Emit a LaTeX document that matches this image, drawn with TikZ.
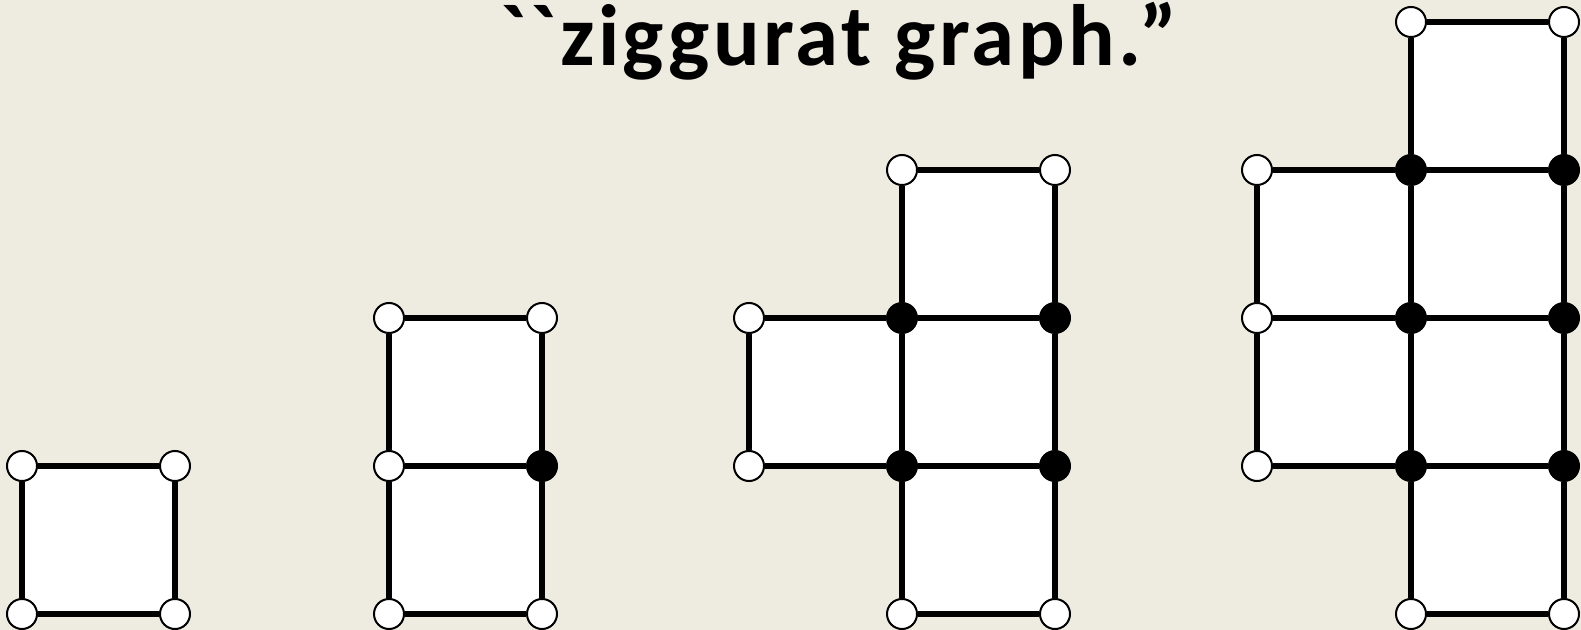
\documentclass[tikz,border=0pt]{standalone}
\usepackage{fontspec}
\usepackage{tikz}
\usetikzlibrary{backgrounds}
\newfontfamily\titlefont{Carlito}[LetterSpace=4]
\definecolor{slidebg}{HTML}{EEEBE0}

\begin{document}
\begin{tikzpicture}[x=0.5pt, y=-0.5pt,
    vtx/.style={circle, draw, line width=1pt, fill=white, inner sep=0pt, minimum size=15pt},
    hub/.style={vtx, fill=black},
    edge/.style={line width=3pt},
    face/.style={fill=white},
    heading/.style={font=\titlefont\bfseries\fontsize{43.5}{52}\selectfont, inner sep=0pt, anchor=base}]
  \useasboundingbox (0,0) rectangle (1581,630);
  \node[heading] (title) at (839,66) {``ziggurat graph.”};

  % first graph: one square
  \node[vtx] (a00) at (22,466) {};
  \node[vtx] (a01) at (22,614) {};
  \node[vtx] (a10) at (175,466) {};
  \node[vtx] (a11) at (175,614) {};

  % second graph: two squares stacked
  \node[vtx] (b00) at (389,318) {};
  \node[vtx] (b01) at (389,466) {};
  \node[vtx] (b02) at (389,614) {};
  \node[vtx] (b10) at (542,318) {};
  \node[hub] (b11) at (542,466) {};
  \node[vtx] (b12) at (542,614) {};

  % third graph
  \node[vtx] (c01) at (749,318) {};
  \node[vtx] (c02) at (749,466) {};
  \foreach \c/\x in {1/902,2/1055} {
    \node[vtx] (c\c0) at (\x,170) {};
    \node[hub] (c\c1) at (\x,318) {};
    \node[hub] (c\c2) at (\x,466) {};
    \node[vtx] (c\c3) at (\x,614) {};
  }

  % fourth graph
  \node[vtx] (d01) at (1257,170) {};
  \node[vtx] (d02) at (1257,318) {};
  \node[vtx] (d03) at (1257,466) {};
  \foreach \c/\x in {1/1411,2/1564} {
    \node[vtx] (d\c0) at (\x,22) {};
    \node[hub] (d\c1) at (\x,170) {};
    \node[hub] (d\c2) at (\x,318) {};
    \node[hub] (d\c3) at (\x,466) {};
    \node[vtx] (d\c4) at (\x,614) {};
  }

  \begin{scope}[on background layer]
    \fill[slidebg] (0,0) rectangle (1581,630);
    % white faces
    \fill[face] (a00.center) rectangle (a11.center);
    \fill[face] (b00.center) rectangle (b12.center);
    \fill[face] (c01.center) rectangle (c12.center);
    \fill[face] (c10.center) rectangle (c23.center);
    \fill[face] (d01.center) rectangle (d13.center);
    \fill[face] (d10.center) rectangle (d24.center);
    % edges
    \draw[edge] (a00) -- (a10) -- (a11) -- (a01) -- (a00);
    \draw[edge] (b00) -- (b10) -- (b11) -- (b12) -- (b02) -- (b01) -- (b00);
    \draw[edge] (b01) -- (b11);
    \draw[edge] (c01) -- (c11) -- (c21);
    \draw[edge] (c02) -- (c12) -- (c22);
    \draw[edge] (c01) -- (c02);
    \draw[edge] (c10) -- (c20);
    \draw[edge] (c13) -- (c23);
    \draw[edge] (c10) -- (c11) -- (c12) -- (c13);
    \draw[edge] (c20) -- (c21) -- (c22) -- (c23);
    \draw[edge] (d01) -- (d11) -- (d21);
    \draw[edge] (d02) -- (d12) -- (d22);
    \draw[edge] (d03) -- (d13) -- (d23);
    \draw[edge] (d01) -- (d02) -- (d03);
    \draw[edge] (d10) -- (d20);
    \draw[edge] (d14) -- (d24);
    \draw[edge] (d10) -- (d11) -- (d12) -- (d13) -- (d14);
    \draw[edge] (d20) -- (d21) -- (d22) -- (d23) -- (d24);
  \end{scope}
\end{tikzpicture}
\end{document}
